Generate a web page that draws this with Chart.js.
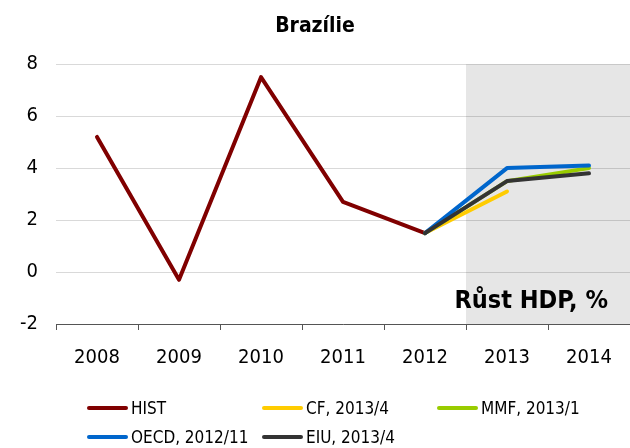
<!DOCTYPE html>
<html>
<head>
<meta charset="utf-8">
<script src="https://cdn.jsdelivr.net/npm/chart.js@4"></script>
<style>
  html, body { margin: 0; padding: 0; background: #fff; }
  #wrap { position: relative; width: 630px; height: 448px; }
  #legend { position: absolute; left: 87px; top: 394px; width: 540px;
    font-family: "DejaVu Sans Condensed", "DejaVu Sans", sans-serif; font-size: 17px; color: #000; }
  .item { position: absolute; height: 28px; line-height: 28px; white-space: nowrap; }
  .swatch { display: inline-block; width: 41px; height: 4px; border-radius: 2px; vertical-align: middle; margin-right: 3px; position: relative; top: -1px; }
</style>
</head>
<body>
<div id="wrap">
  <canvas id="c" width="630" height="448"></canvas>
  <div id="legend"></div>
</div>
<script>
const years = ["2008", "2009", "2010", "2011", "2012", "2013", "2014"];
const hist = [5.2, -0.3, 7.5, 2.7, 1.5, null, null];
const cf   = [null, null, null, null, 1.5, 3.1, null];
const mmf  = [null, null, null, null, 1.5, 3.5, 4.0];
const oecd = [null, null, null, null, 1.5, 4.0, 4.1];
const eiu  = [null, null, null, null, 1.5, 3.5, 3.8];
const yTicks = [-2, 0, 2, 4, 6, 8];

const FONT = '"DejaVu Sans Condensed", "DejaVu Sans", sans-serif';

const series = [
  { label: "HIST", data: hist, color: "#800000", order: 4 },
  { label: "CF, 2013/4", data: cf, color: "#ffcc00", order: 3 },
  { label: "MMF, 2013/1", data: mmf, color: "#99cc00", order: 2 },
  { label: "OECD, 2012/11", data: oecd, color: "#0066cc", order: 1 },
  { label: "EIU, 2013/4", data: eiu, color: "#333333", order: 0 }
];

// grey forecast band + caption
const band = {
  id: "band",
  beforeDraw(chart) {
    const { ctx, chartArea, scales } = chart;
    const x0 = (scales.x.getPixelForValue(4) + scales.x.getPixelForValue(5)) / 2;
    ctx.save();
    ctx.fillStyle = "#e6e6e6";
    ctx.fillRect(x0, chartArea.top, chartArea.right - x0, chartArea.bottom - chartArea.top);
    ctx.restore();
  },
  afterDatasetsDraw(chart) {
    const { ctx } = chart;
    ctx.save();
    ctx.font = "bold 25px " + FONT;
    ctx.fillStyle = "#000";
    ctx.textAlign = "right";
    ctx.textBaseline = "middle";
    ctx.fillText("Růst HDP, %", 608, 301);
    ctx.restore();
  }
};

new Chart(document.getElementById("c"), {
  type: "line",
  data: {
    labels: years,
    datasets: series.map(s => ({
      label: s.label, data: s.data, order: s.order,
      borderColor: s.color, backgroundColor: s.color,
      borderWidth: 4, pointRadius: 0, tension: 0,
      borderCapStyle: "round", borderJoinStyle: "round", spanGaps: false
    }))
  },
  options: {
    responsive: false, animation: false,
    layout: { padding: { left: 0, right: 0, top: 0, bottom: 74 } },
    plugins: {
      legend: { display: false },
      tooltip: { enabled: false },
      title: { display: true, text: "Brazílie", color: "#000",
        font: { family: FONT, size: 21, weight: "bold" }, padding: { top: 14, bottom: 25 } }
    },
    scales: {
      x: {
        offset: true,
        grid: { offset: true, drawOnChartArea: false, drawTicks: true, tickLength: 6, color: "#555" },
        border: { color: "#555", width: 1 },
        ticks: { color: "#000", font: { family: FONT, size: 20 }, padding: 16, maxRotation: 0 },
        afterFit(s) { s.height = 50; }
      },
      y: {
        min: -2, max: 8,
        afterBuildTicks(s) { s.ticks = yTicks.map(v => ({ value: v })); },
        grid: { color: "rgba(0,0,0,0.15)", lineWidth: 1, drawTicks: false },
        border: { display: false },
        ticks: { color: "#000", font: { family: FONT, size: 20 }, padding: 18 },
        afterFit(s) { s.width = 56; }
      }
    }
  },
  plugins: [band]
});

// legend in two rows, three columns
const legend = document.getElementById("legend");
series.forEach((s, i) => {
  const d = document.createElement("div");
  d.className = "item";
  d.style.left = (i % 3) * 175 + "px";
  d.style.top = Math.floor(i / 3) * 29 + "px";
  d.innerHTML = '<span class="swatch" style="background:' + s.color + '"></span>' + s.label;
  legend.appendChild(d);
});
</script>
</body>
</html>
